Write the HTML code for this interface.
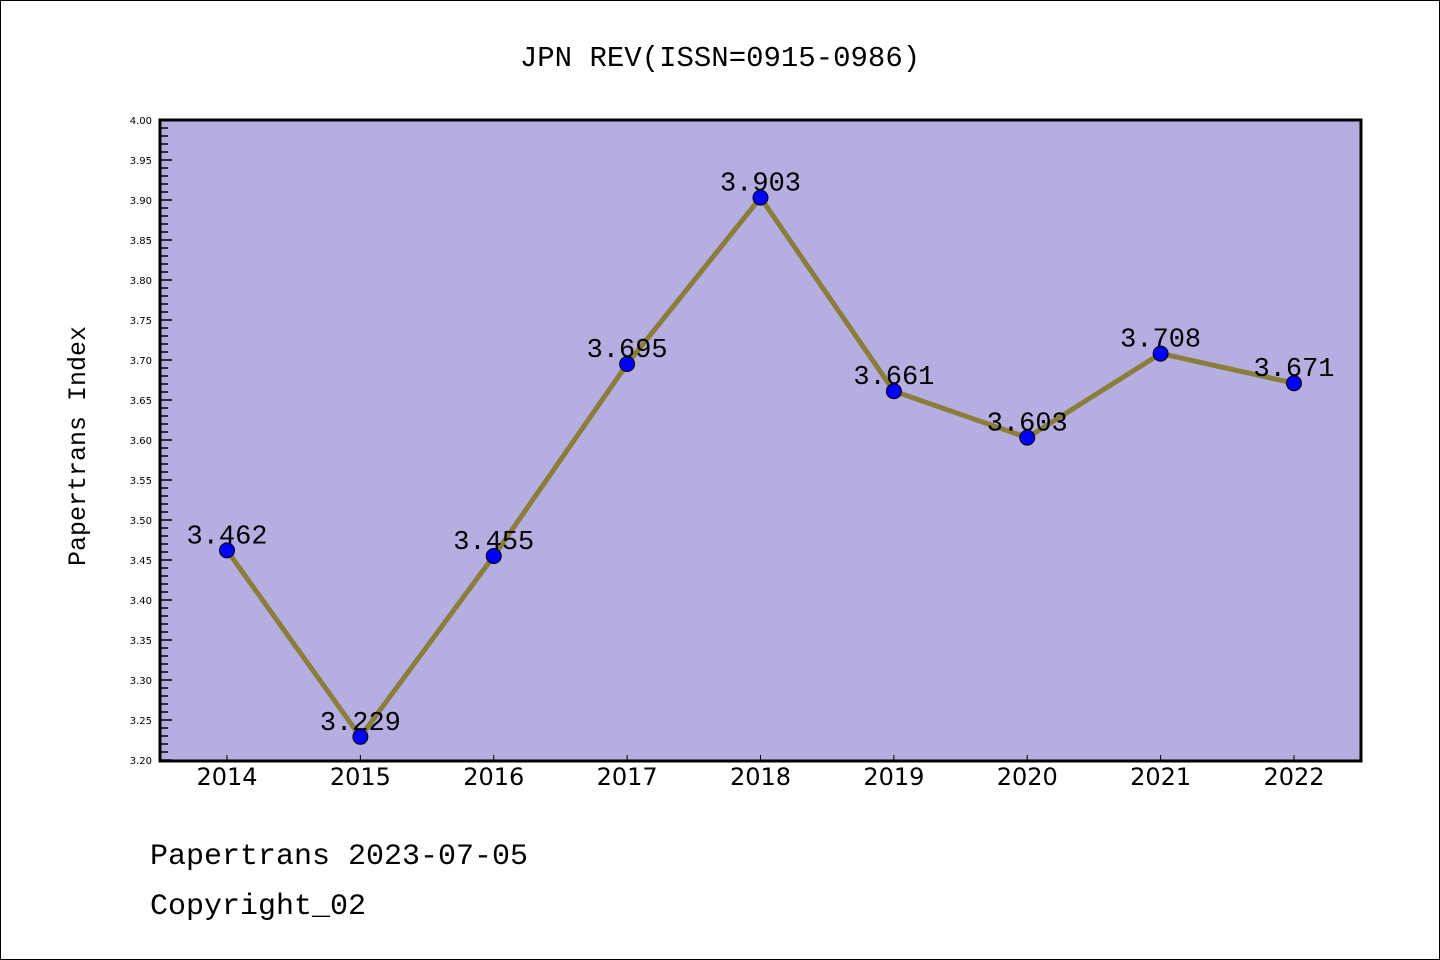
<!DOCTYPE html>
<html><head><meta charset="utf-8"><style>
html,body{margin:0;padding:0;background:#fff}
#wrap{position:relative;width:1440px;height:960px;overflow:hidden}
svg text{font-family:"Liberation Mono","DejaVu Sans Mono",monospace}
svg text.sans{font-family:"DejaVu Sans","Liberation Sans",sans-serif}
</style></head><body>
<div id="wrap">
<svg id="chart" width="1440" height="960">
<rect x="0.5" y="0.5" width="1439" height="959" fill="#fff" stroke="#000" stroke-width="1"/>
<text x="720" y="66" font-size="29" text-anchor="middle">JPN REV(ISSN=0915-0986)</text>
<rect x="160" y="120" width="1201" height="641" fill="#b5aee1"/>
<g id="yaxis"></g>
<g id="xaxis"></g>
<g id="series"></g>
<rect x="160" y="120" width="1201" height="641" fill="none" stroke="#000" stroke-width="3"/>
<text transform="translate(85,446) rotate(-90)" font-size="25" text-anchor="middle">Papertrans Index</text>
<text x="150" y="864" font-size="30">Papertrans 2023-07-05</text>
<text x="150" y="914" font-size="30">Copyright_02</text>
</svg>
</div>
<script>
const categories=["2014","2015","2016","2017","2018","2019","2020","2021","2022"];
const values=[3.462,3.229,3.455,3.695,3.903,3.661,3.603,3.708,3.671];
const valueLabels=["3.462","3.229","3.455","3.695","3.903","3.661","3.603","3.708","3.671"];
const yTicks=["3.20","3.25","3.30","3.35","3.40","3.45","3.50","3.55","3.60","3.65","3.70","3.75","3.80","3.85","3.90","3.95","4.00"];
const yMin=3.2,yMax=4.0;
const NS="http://www.w3.org/2000/svg";
function y(v){return 760-(v-yMin)/(yMax-yMin)*640;}
function x(i){return 227+i*(1294-227)/(categories.length-1);}
function mk(t,a,p){const e=document.createElementNS(NS,t);for(const k in a)e.setAttribute(k,a[k]);p.appendChild(e);return e;}
const ya=document.getElementById('yaxis'),xa=document.getElementById('xaxis'),se=document.getElementById('series');
for(let k=0;k<=80;k++){const v=yMin+k*0.01;const major=k%5===0;
 const l=mk('line',{x1:160,x2:major?172:168,y1:y(v),y2:y(v),stroke:'#000','stroke-width':1.5},ya);
 
 }
yTicks.forEach(t=>{const e=mk('text',{x:152,y:y(parseFloat(t))+4,'font-size':10,'text-anchor':'end','class':'sans'},ya);e.textContent=t;
 
 });
categories.forEach((c,i)=>{const l=mk('line',{x1:x(i),x2:x(i),y1:761,y2:755,stroke:'#000','stroke-width':1},xa);
 
 
 const e=mk('text',{x:x(i),y:785,'font-size':24,'text-anchor':'middle','class':'sans'},xa);e.textContent=c;
 
 });
const pl=mk('polyline',{points:values.map((v,i)=>x(i)+','+y(v)).join(' '),fill:'none',stroke:'#8b7d3a','stroke-width':5},se);


values.forEach((v,i)=>{const c=mk('circle',{cx:x(i),cy:y(v),r:7.5,fill:'#0000ff',stroke:'#000','stroke-width':1},se);
 
 
 const t=mk('text',{x:x(i),y:y(v)-7,'font-size':27,'text-anchor':'middle'},se);t.textContent=valueLabels[i];
 
 });
</script>
</body></html>
